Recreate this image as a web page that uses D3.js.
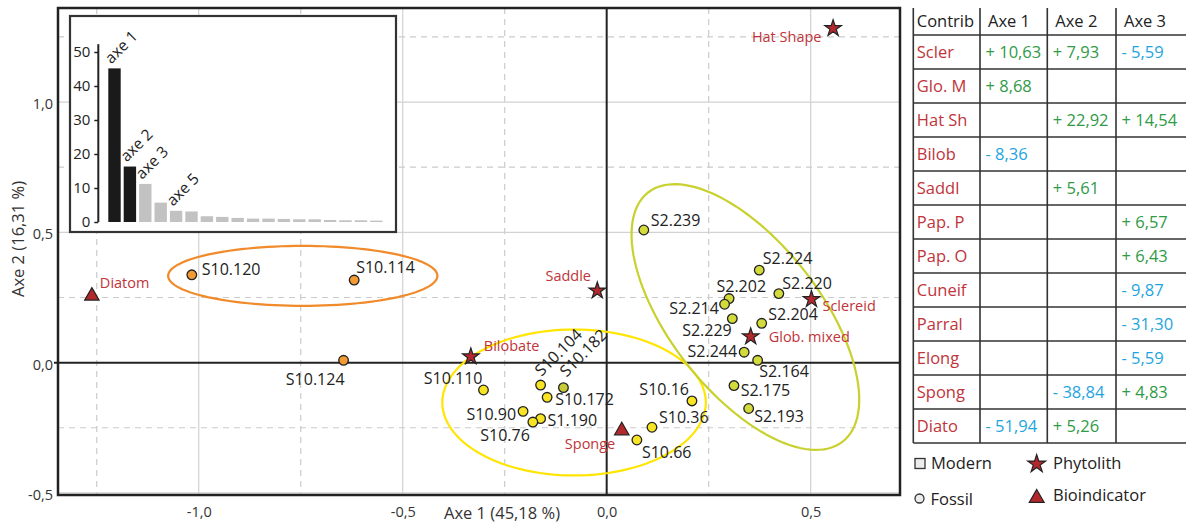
<!DOCTYPE html>
<html lang="fr">
<head>
<meta charset="UTF-8">
<title>AFC phytolithes</title>
<script src="https://cdnjs.cloudflare.com/ajax/libs/d3/7.8.5/d3.min.js"></script>
<style>
  body { margin: 0; background: #fff; }
  svg { display: block; font-family: "Open Sans", sans-serif; }
</style>
</head>
<body>
<div id="chart"></div>
<script>
// echantillons fossiles (coordonnees sur axe 1 / axe 2)
const sampleNames = ["S10.120", "S10.114", "S10.124",
  "S10.110", "S10.104", "S10.182", "S10.172", "S10.90", "S1.190", "S10.76", "S10.16", "S10.36", "S10.66",
  "S2.239", "S2.224", "S2.202", "S2.214", "S2.220", "S2.229", "S2.204", "S2.244", "S2.164", "S2.175", "S2.193"];
const sampleAxe1 = [-1.017, -0.619, -0.645,
  -0.302, -0.162, -0.106, -0.146, -0.205, -0.162, -0.181, 0.209, 0.111, 0.074,
  0.091, 0.374, 0.300, 0.289, 0.422, 0.308, 0.380, 0.337, 0.370, 0.312, 0.348];
const sampleAxe2 = [0.337, 0.317, 0.009,
  -0.105, -0.086, -0.096, -0.133, -0.187, -0.215, -0.228, -0.147, -0.248, -0.297,
  0.509, 0.355, 0.246, 0.224, 0.265, 0.169, 0.151, 0.040, 0.009, -0.088, -0.176];
const sampleGroup = ["o", "o", "o",
  "y", "y", "g", "y", "y", "y", "y", "y", "y", "y",
  "l", "l", "l", "l", "l", "l", "l", "l", "l", "l", "l"];

// phytolithes (etoiles)
const phytoNames = ["Hat Shape", "Saddle", "Bilobate", "Sclereid", "Glob. mixed"];
const phytoAxe1 = [0.555, -0.023, -0.333, 0.502, 0.353];
const phytoAxe2 = [1.283, 0.276, 0.023, 0.243, 0.100];

// bioindicateurs (triangles)
const bioNames = ["Diatom", "Sponge"];
const bioAxe1 = [-1.262, 0.037];
const bioAxe2 = [0.256, -0.261];

// valeurs propres (%)
const eigenValues = [45.18, 16.31, 11.2, 5.7, 3.3, 3.1, 1.7, 1.5, 1.2, 1.0, 1.0, 0.9, 0.8, 0.8, 0.6, 0.5, 0.5, 0.4];
const eigenLabels = ["axe 1", "axe 2", "axe 3", "", "axe 5"];
const eigenTicks = [0, 10, 20, 30, 40, 50];

// tableau des contributions
const contribHeaders = ["Contrib", "Axe 1", "Axe 2", "Axe 3"];
const contribNames = ["Scler", "Glo. M", "Hat Sh", "Bilob", "Saddl", "Pap. P", "Pap. O", "Cuneif", "Parral", "Elong", "Spong", "Diato"];
const contribAxe1 = [10.63, 8.68, null, -8.36, null, null, null, null, null, null, null, -51.94];
const contribAxe2 = [7.93, null, 22.92, null, 5.61, null, null, null, null, null, -38.84, 5.26];
const contribAxe3 = [-5.59, null, 14.54, null, null, 6.57, 6.43, -9.87, -31.30, -5.59, 4.83, null];

const xTicks = [-1, -0.5, 0, 0.5];
const yTicks = [-0.5, 0, 0.5, 1];

// ellipses des groupes : centre, demi-diametres conjugues
const ellipseGroups = ["o", "y", "l"];
const ellipseCenter = [[-0.745, 0.333], [-0.080, -0.153], [0.340, 0.175]];
const ellipseU = [[0.330, 0], [0.323, 0], [0.2385, -0.478]];
const ellipseV = [[0, 0.115], [0, 0.280], [-0.1449, -0.1773]];

// couleurs
const fillCol = { o: "#f39a32", y: "#f7e523", g: "#c6cb36", l: "#d3da3c" };
const ringCol = { o: "#f08a2a", y: "#ffe500", l: "#c8d12e" };
const red = "#b3282d";
const labelRed = "#c0343a";

// position des etiquettes [dx, dy, ancre, rotation]
const labelPos = {
  "S10.120": [10, 0, "start"], "S10.114": [2, -7, "start"], "S10.124": [1, 25, "end"],
  "S10.110": [-1, -5.5, "end"], "S10.104": [1, -8, "start", -45], "S10.182": [3, -10, "start", -45],
  "S10.172": [8, 8, "start"], "S10.90": [-7, 8.5, "end"], "S1.190": [7, 7.5, "start"],
  "S10.76": [-3, 18.5, "end"], "S10.16": [-3, -6, "end"], "S10.36": [7, -4.5, "start"],
  "S10.66": [5, 17.5, "start"],
  "S2.239": [7, -4.5, "start"], "S2.224": [3.5, -6.5, "start"], "S2.202": [-12.6, -6.5, "start"],
  "S2.214": [-5.7, 9.7, "end"], "S2.220": [3.5, -5, "start"], "S2.229": [-0.6, 17.3, "end"],
  "S2.204": [6.6, -3, "start"], "S2.244": [-7, 4.7, "end"], "S2.164": [1.7, 16.7, "start"],
  "S2.175": [6.7, 10.3, "start"], "S2.193": [5.7, 13.3, "start"],
  "Hat Shape": [-11.6, 13.7, "end"], "Saddle": [-6.3, -9.7, "end"], "Bilobate": [13, -6, "start"],
  "Sclereid": [11, 12, "start"], "Glob. mixed": [18, 5.5, "start"],
  "Diatom": [8, -8, "start"], "Sponge": [-6.5, 18, "end"]
};

const W = 1186, H = 524;
const svg = d3.select('#chart').append('svg')
  .attr('width', W).attr('height', H);

const frame = { left: 58, right: 900, top: 8, bottom: 495 };
const x = d3.scaleLinear().domain([-1.345, 0.719]).range([frame.left, frame.right]);
const y = d3.scaleLinear().domain([-0.508, 1.361]).range([frame.bottom, frame.top]);

const loc = d3.formatLocale({ decimal: ",", thousands: " ", grouping: [3], currency: ["", ""], minus: "-" });
const f1 = loc.format(".1f");
const f2 = loc.format(".2f");

// grille
const grid = svg.append('g');
const solidX = [-1, -0.5, 0.5], dashX = [-1.25, -0.75, -0.25, 0.25];
const solidY = [-0.5, 0.5, 1], dashY = [-0.25, 0.25, 0.75, 1.25];
grid.selectAll('.sx').data(solidX).enter().append('line')
  .attr('x1', d => x(d)).attr('x2', d => x(d)).attr('y1', frame.top).attr('y2', frame.bottom)
  .attr('stroke', '#d2d2d2').attr('stroke-width', 1.2);
grid.selectAll('.dx').data(dashX).enter().append('line')
  .attr('x1', d => x(d)).attr('x2', d => x(d)).attr('y1', frame.top).attr('y2', frame.bottom)
  .attr('stroke', '#cbcbcb').attr('stroke-width', 1.2).attr('stroke-dasharray', '6,5');
grid.selectAll('.sy').data(solidY).enter().append('line')
  .attr('y1', d => y(d)).attr('y2', d => y(d)).attr('x1', frame.left).attr('x2', frame.right)
  .attr('stroke', '#d2d2d2').attr('stroke-width', 1.2);
grid.selectAll('.dy').data(dashY).enter().append('line')
  .attr('y1', d => y(d)).attr('y2', d => y(d)).attr('x1', frame.left).attr('x2', frame.right)
  .attr('stroke', '#cbcbcb').attr('stroke-width', 1.2).attr('stroke-dasharray', '6,5');

// axes zero
svg.append('line').attr('x1', x(0)).attr('x2', x(0)).attr('y1', frame.top).attr('y2', frame.bottom)
  .attr('stroke', '#222').attr('stroke-width', 2);
svg.append('line').attr('x1', frame.left - 4).attr('x2', frame.right).attr('y1', y(0)).attr('y2', y(0))
  .attr('stroke', '#222').attr('stroke-width', 2);

// ellipses
const ellLine = d3.line().x(d => x(d[0])).y(d => y(d[1])).curve(d3.curveLinearClosed);
ellipseGroups.forEach(function (g, i) {
  const pts = d3.range(120).map(function (k) {
    const t = k / 120 * 2 * Math.PI;
    return [ellipseCenter[i][0] + ellipseU[i][0] * Math.cos(t) + ellipseV[i][0] * Math.sin(t),
            ellipseCenter[i][1] + ellipseU[i][1] * Math.cos(t) + ellipseV[i][1] * Math.sin(t)];
  });
  svg.append('path').attr('d', ellLine(pts))
    .attr('fill', 'none').attr('stroke', ringCol[g]).attr('stroke-width', 2.2);
});

// points fossiles
const samples = sampleNames.map((n, i) => ({ name: n, a1: sampleAxe1[i], a2: sampleAxe2[i], g: sampleGroup[i] }));
svg.selectAll('circle.s').data(samples).enter().append('circle')
  .attr('cx', d => x(d.a1)).attr('cy', d => y(d.a2)).attr('r', 4.8)
  .attr('fill', d => fillCol[d.g]).attr('stroke', '#222').attr('stroke-width', 1.3);

function addLabel(name, px, py, color, size) {
  const p = labelPos[name];
  const t = svg.append('text').text(name)
    .attr('fill', color).attr('font-size', size).attr('text-anchor', p[2]);
  if (p[3]) {
    t.attr('transform', `translate(${px + p[0]},${py + p[1]}) rotate(${p[3]})`);
  } else {
    t.attr('x', px + p[0]).attr('y', py + p[1]);
  }
}
samples.forEach(d => addLabel(d.name, x(d.a1), y(d.a2), '#222', 16));

// phytolithes
const star = d3.symbol().type(d3.symbolStar).size(85);
const tri = d3.symbol().type(d3.symbolTriangle).size(90);
phytoNames.forEach(function (n, i) {
  svg.append('path').attr('d', star)
    .attr('transform', `translate(${x(phytoAxe1[i])},${y(phytoAxe2[i])})`)
    .attr('fill', red).attr('stroke', '#222').attr('stroke-width', 1.2);
  addLabel(n, x(phytoAxe1[i]), y(phytoAxe2[i]), labelRed, 14.5);
});
bioNames.forEach(function (n, i) {
  svg.append('path').attr('d', tri)
    .attr('transform', `translate(${x(bioAxe1[i])},${y(bioAxe2[i])})`)
    .attr('fill', red).attr('stroke', '#222').attr('stroke-width', 1.2);
  addLabel(n, x(bioAxe1[i]), y(bioAxe2[i]), labelRed, 14.5);
});

// cadre
svg.append('rect').attr('x', frame.left).attr('y', frame.top)
  .attr('width', frame.right - frame.left).attr('height', frame.bottom - frame.top)
  .attr('fill', 'none').attr('stroke', '#222').attr('stroke-width', 2.5);

// graduations
const xAxis = svg.append('g').attr('transform', `translate(0,${frame.bottom})`)
  .call(d3.axisBottom(x).tickValues(xTicks).tickFormat(f1).tickSize(0).tickPadding(12));
const yAxis = svg.append('g').attr('transform', `translate(${frame.left},0)`)
  .call(d3.axisLeft(y).tickValues(yTicks).tickFormat(f1).tickSize(0).tickPadding(5));
[xAxis, yAxis].forEach(function (a) {
  a.select('.domain').remove();
  a.selectAll('text').attr('font-size', 14.5).attr('fill', '#333')
    .attr('font-family', '"Open Sans", sans-serif');
});
yAxis.selectAll('text').attr('dy', '0.45em');

svg.append('text').text('Axe 1 (45,18 %)')
  .attr('x', 502).attr('y', 519).attr('text-anchor', 'middle')
  .attr('font-size', 16.5).attr('fill', '#333');
svg.append('text').text('Axe 2 (16,31 %)')
  .attr('transform', 'translate(24,239) rotate(-90)').attr('text-anchor', 'middle')
  .attr('font-size', 16.5).attr('fill', '#333');

// encart valeurs propres
const inset = svg.append('g');
inset.append('rect').attr('x', 70).attr('y', 16).attr('width', 326).attr('height', 216)
  .attr('fill', '#fff').attr('stroke', '#333').attr('stroke-width', 2.2);
const ix = d3.scaleBand().domain(d3.range(eigenValues.length)).range([108.3, 382.5]).paddingInner(0.195);
const iy = d3.scaleLinear().domain([0, 50]).range([222, 52]);
inset.selectAll('rect.bar').data(eigenValues).enter().append('rect')
  .attr('x', (d, i) => ix(i)).attr('width', ix.bandwidth())
  .attr('y', d => iy(d)).attr('height', d => iy(0) - iy(d))
  .attr('fill', (d, i) => i < 2 ? '#1a1a1a' : '#c2c2c2');
const iAxis = inset.append('g').attr('transform', 'translate(98.3,0)')
  .call(d3.axisLeft(iy).tickValues(eigenTicks).tickSize(4).tickPadding(4));
iAxis.select('.domain').remove();
iAxis.selectAll('line').attr('stroke', '#222').attr('stroke-width', 1.5);
iAxis.selectAll('text').attr('font-size', 15).attr('fill', '#222')
  .attr('font-family', '"Open Sans", sans-serif');
inset.append('line').attr('x1', 98.3).attr('x2', 98.3).attr('y1', iy(52.3)).attr('y2', iy(0))
  .attr('stroke', '#222').attr('stroke-width', 2);
eigenLabels.forEach(function (l, i) {
  if (!l) return;
  inset.append('text').text(l)
    .attr('transform', `translate(${ix(i) + 3},${iy(eigenValues[i]) - 4}) rotate(-45)`)
    .attr('font-size', 15.5).attr('fill', '#222');
});

// tableau
const table = svg.append('g');
const colX = [913.3, 980, 1047.3, 1116];
const rowTop = 35, rowH = 34, tableTop = 8;
const tableBottom = rowTop + rowH * contribNames.length;
colX.forEach(cx => table.append('line').attr('x1', cx).attr('x2', cx)
  .attr('y1', tableTop).attr('y2', tableBottom).attr('stroke', '#333').attr('stroke-width', 1.6));
d3.range(contribNames.length + 1).forEach(k => table.append('line')
  .attr('x1', colX[0]).attr('x2', W).attr('y1', rowTop + k * rowH).attr('y2', rowTop + k * rowH)
  .attr('stroke', '#333').attr('stroke-width', 1.6));
contribHeaders.forEach((h, j) => table.append('text').text(h)
  .attr('x', colX[j] + (j === 0 ? 3.5 : 8)).attr('y', 27)
  .attr('font-size', 16.5).attr('fill', '#222'));
const green = '#2f9a47', blue = '#1ea5e0';
const fmtC = v => (v > 0 ? '+ ' : '- ') + f2(Math.abs(v));
contribNames.forEach(function (n, i) {
  const cy = rowTop + i * rowH + rowH / 2 + 6;
  table.append('text').text(n).attr('x', colX[0] + 3.5).attr('y', cy)
    .attr('font-size', 16.5).attr('fill', labelRed);
  [contribAxe1[i], contribAxe2[i], contribAxe3[i]].forEach(function (v, j) {
    if (v === null) return;
    table.append('text').text(fmtC(v)).attr('x', colX[j + 1] + 5.5).attr('y', cy)
      .attr('font-size', 16.5).attr('fill', v > 0 ? green : blue);
  });
});

// legende
const leg = svg.append('g');
leg.append('rect').attr('x', 915).attr('y', 458.5).attr('width', 10).attr('height', 10)
  .attr('fill', '#ececec').attr('stroke', '#333').attr('stroke-width', 1.3);
leg.append('text').text('Modern').attr('x', 931).attr('y', 469).attr('font-size', 16.5).attr('fill', '#222');
leg.append('circle').attr('cx', 919.5).attr('cy', 498.5).attr('r', 4.5)
  .attr('fill', '#ececec').attr('stroke', '#333').attr('stroke-width', 1.3);
leg.append('text').text('Fossil').attr('x', 930.5).attr('y', 505).attr('font-size', 16.5).attr('fill', '#222');
leg.append('path').attr('d', d3.symbol().type(d3.symbolStar).size(100))
  .attr('transform', 'translate(1036.7,464)').attr('fill', red).attr('stroke', '#222').attr('stroke-width', 1.2);
leg.append('text').text('Phytolith').attr('x', 1053).attr('y', 469).attr('font-size', 16.5).attr('fill', '#222');
leg.append('path').attr('d', d3.symbol().type(d3.symbolTriangle).size(95))
  .attr('transform', 'translate(1036.7,498)').attr('fill', red).attr('stroke', '#222').attr('stroke-width', 1.2);
leg.append('text').text('Bioindicator').attr('x', 1053).attr('y', 501).attr('font-size', 16.5).attr('fill', '#222');
</script>
</body>
</html>
